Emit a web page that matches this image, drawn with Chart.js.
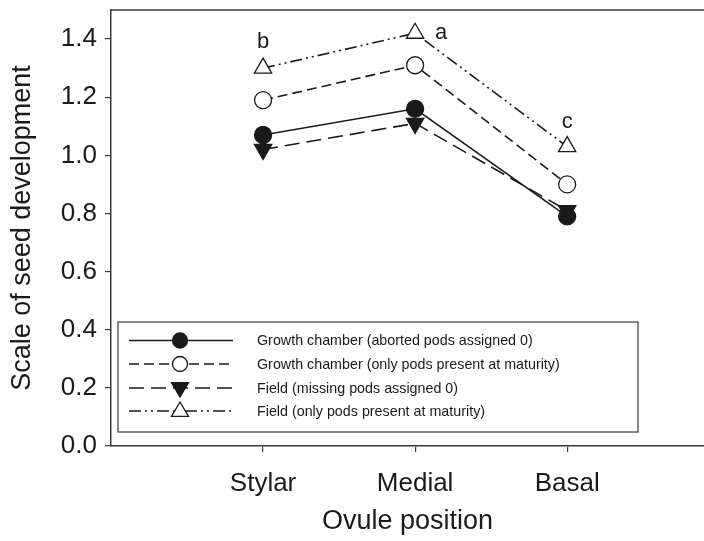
<!DOCTYPE html>
<html><head><meta charset="utf-8">
<script src="https://cdn.jsdelivr.net/npm/chart.js@4/dist/chart.umd.min.js"></script>
<style>html,body{margin:0;padding:0;background:#fff}#wrap{width:704px;height:541px;position:relative}</style>
</head><body><div id="wrap"><canvas id="c"></canvas></div>
<script>
const categories = ['Stylar', 'Medial', 'Basal'];
const gcAborted = [1.07, 1.16, 0.79];
const gcPresent = [1.19, 1.31, 0.90];
const fieldMissing = [1.02, 1.11, 0.81];
const fieldPresent = [1.30, 1.42, 1.03];
const seriesNames = [
  'Growth chamber (aborted pods assigned 0)',
  'Growth chamber (only pods present at maturity)',
  'Field (missing pods assigned 0)',
  'Field (only pods present at maturity)'
];
const yTickValues = [0, 0.2, 0.4, 0.6, 0.8, 1.0, 1.2, 1.4];
const letters = ['b', 'a', 'c'];

const FONT = "'Liberation Sans', Arial, sans-serif";
const INK = '#1a1a1a';
const AX = '#3a3a3a';

function pts(arr){ return arr.map((v,i)=>({x:i, y:v})); }

const styles = [
  {dash: [], style:'circle', fill:INK, rot:0, r:8.5},
  {dash: [10,5], style:'circle', fill:'#fff', rot:0, r:8.5},
  {dash: [15,7], style:'triangle', fill:INK, rot:180, r:10},
  {dash: [12,4,2,4,2,4], style:'triangle', fill:'#fff', rot:0, r:10}
];
const seriesData = [gcAborted, gcPresent, fieldMissing, fieldPresent];

const datasets = seriesData.map((arr, k) => ({
  label: seriesNames[k],
  data: pts(arr),
  borderColor: INK,
  borderWidth: 1.6,
  borderDash: styles[k].dash,
  pointStyle: styles[k].style,
  pointRotation: styles[k].rot,
  pointRadius: styles[k].r,
  pointHoverRadius: styles[k].r,
  pointBorderWidth: 1.3,
  pointBackgroundColor: styles[k].fill,
  pointBorderColor: INK,
  tension: 0,
  fill: false,
  clip: false
}));

function drawMarker(ctx, st, x, y, r){
  ctx.save();
  ctx.setLineDash([]);
  ctx.lineWidth = 1.3;
  ctx.strokeStyle = INK;
  ctx.fillStyle = st.fill;
  ctx.beginPath();
  if (st.style === 'circle') {
    ctx.arc(x, y, r, 0, Math.PI*2);
  } else {
    const dir = st.rot === 180 ? -1 : 1;
    ctx.moveTo(x, y - dir*r);
    ctx.lineTo(x + r*0.95, y + dir*r*0.6);
    ctx.lineTo(x - r*0.95, y + dir*r*0.6);
    ctx.closePath();
  }
  ctx.fill();
  ctx.stroke();
  ctx.restore();
}

const extras = {
  id: 'extras',
  afterDraw(chart){
    const ctx = chart.ctx;
    const ca = chart.chartArea;
    const xs = chart.scales.x, ys = chart.scales.y;
    ctx.save();
    ctx.strokeStyle = AX; ctx.lineWidth = 1.5;
    ctx.beginPath(); ctx.moveTo(ca.left, ca.top); ctx.lineTo(ca.right, ca.top); ctx.stroke();
    ctx.fillStyle = INK;
    ctx.font = '22px ' + FONT;
    ctx.textAlign = 'center'; ctx.textBaseline = 'middle';
    ctx.fillText(letters[0], xs.getPixelForValue(0), ys.getPixelForValue(fieldPresent[0]) - 26);
    ctx.fillText(letters[1], xs.getPixelForValue(1) + 26, ys.getPixelForValue(fieldPresent[1]));
    ctx.fillText(letters[2], xs.getPixelForValue(2), ys.getPixelForValue(fieldPresent[2]) - 25);
    const bx = 118, by = 322, bw = 520, bh = 110;
    ctx.fillStyle = '#fff';
    ctx.fillRect(bx, by, bw, bh);
    ctx.strokeStyle = AX; ctx.lineWidth = 1.2;
    ctx.strokeRect(bx, by, bw, bh);
    const rowY = [340.5, 364, 388, 411];
    ctx.font = '14.3px ' + FONT;
    ctx.textAlign = 'left';
    for (let k = 0; k < 4; k++) {
      const y = rowY[k];
      ctx.save();
      ctx.strokeStyle = INK; ctx.lineWidth = 1.6;
      ctx.setLineDash(styles[k].dash);
      ctx.beginPath(); ctx.moveTo(129, y); ctx.lineTo(233, y); ctx.stroke();
      ctx.restore();
      drawMarker(ctx, styles[k], 180, y, styles[k].style === 'circle' ? 7.5 : 9);
      ctx.fillStyle = INK;
      ctx.fillText(seriesNames[k], 257, y + 1);
    }
    ctx.restore();
  }
};

new Chart(document.getElementById('c'), {
  type: 'line',
  data: { datasets },
  options: {
    responsive: true,
    maintainAspectRatio: false,
    animation: false,
    events: [],
    layout: { autoPadding: false, padding: { top: 10, left: 0, right: 0, bottom: 0 } },
    plugins: { legend: { display: false }, tooltip: { enabled: false } },
    scales: {
      x: {
        type: 'linear',
        min: -1,
        max: 2.9,
        afterBuildTicks: s => { s.ticks = categories.map((c, i) => ({ value: i })); },
        afterFit: s => { s.height = 95; s.paddingLeft = 0; s.paddingRight = 0; },
        ticks: { callback: v => categories[v] ?? '', font: { family: FONT, size: 26 }, color: INK, padding: 16, autoSkip: false, maxRotation: 0 },
        grid: { display: true, drawOnChartArea: false, drawTicks: true, tickLength: 6, color: AX, lineWidth: 1.2 },
        border: { display: true, color: AX, width: 1.5 },
        title: { display: true, text: 'Ovule position', font: { family: FONT, size: 27 }, color: INK, padding: { top: 4, bottom: 3 } }
      },
      y: {
        type: 'linear',
        min: 0,
        max: 1.5,
        afterBuildTicks: s => { s.ticks = yTickValues.map(v => ({ value: v })); },
        afterFit: s => { s.width = 111; s.paddingTop = 0; s.paddingBottom = 0; },
        ticks: { callback: v => Number(v).toFixed(1), font: { family: FONT, size: 26 }, color: INK, padding: 8 },
        grid: { display: true, drawOnChartArea: false, drawTicks: true, tickLength: 6, color: AX, lineWidth: 1.2 },
        border: { display: true, color: AX, width: 1.5 },
        title: { display: true, text: 'Scale of seed development', font: { family: FONT, size: 27 }, color: INK, padding: { top: 6, bottom: 4 } }
      }
    }
  },
  plugins: [extras]
});
</script>
</body></html>
